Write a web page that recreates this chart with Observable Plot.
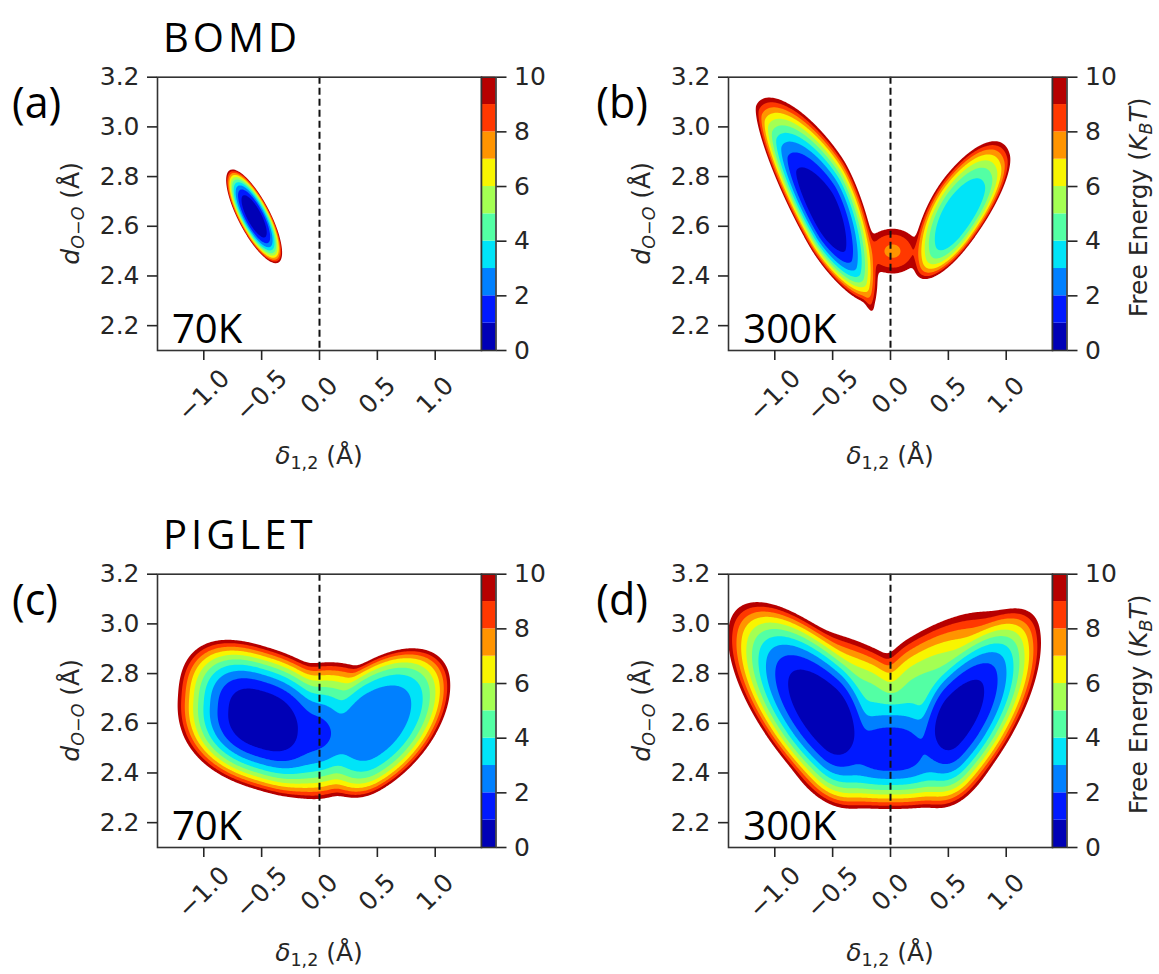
<!DOCTYPE html>
<html>
<head>
<meta charset="utf-8">
<script src="https://cdn.jsdelivr.net/npm/d3@7"></script>
<script src="https://cdn.jsdelivr.net/npm/@observablehq/plot@0.6"></script>
<style>
  html, body { margin: 0; padding: 0; background: #fff; }
  #fig { position: relative; width: 1159px; height: 974px; overflow: hidden; background: #fff; }
  #fig svg { position: absolute; overflow: visible; }
</style>
</head>
<body>
<div id="fig"></div>
<script>
// ---- chart values -------------------------------------------------------
const methods = ["BOMD", "PIGLET"];
const panelTags = ["(a)", "(b)", "(c)", "(d)"];
const temperatures = ["70K", "300K", "70K", "300K"];
const xTicks = [-1.0, -0.5, 0.0, 0.5, 1.0];
const yTicks = [2.2, 2.4, 2.6, 2.8, 3.0, 3.2];
const xDomain = [-1.4, 1.4];
const yDomain = [2.1, 3.2];
const energyLevels = [0, 1, 2, 3, 4, 5, 6, 7, 8, 9, 10];   // k_B T
const colorbarTicks = [0, 2, 4, 6, 8, 10];
// jet colour of each 1 k_B T band, from 0–1 up to 9–10
const bandColors = ["#0000b6", "#0019ff", "#0080ff", "#00e4f8", "#53ffa4",
                    "#a4ff53", "#f8f500", "#ff9400", "#ff3800", "#b60000"];

// Free-energy basins of each surface:
// [δ centre, d centre, axis angle (deg), half-length +, half-length −,
//  half-width +, half-width −, shape exponent, basin depth, wall exponent]
// half-lengths/widths are where the basin alone reaches 10 k_B T.
const bomd70 = [
  [-0.565, 2.64, -36, 0.29, 0.29, 0.10, 0.10, 2, 0, 2.9]
];
const bomd300 = [
  [-0.57, 2.64, -37, 0.55, 0.74, 0.28, 0.175, 1.7, 0, 2.6],
  [ 0.58, 2.63,  30, 0.52, 0.42, 0.20, 0.14, 2, 3.0, 3.0],
  [ 0.02, 2.50,   0, 0.22, 0.24, 0.09, 0.09, 2, 7.8, 2],
  [-0.20, 2.33, -55, 0.08, 0.08, 0.035, 0.035, 2, 8.6, 2]
];
const piglet70 = [
  [-0.50, 2.61, -8, 0.75, 0.73, 0.30, 0.28, 2.5, 0, 2.5],
  [ 0.45, 2.60, 15, 0.70, 0.50, 0.25, 0.28, 2, 2.3, 3.5],
  [ 0.00, 2.56,  0, 0.45, 0.45, 0.25, 0.26, 2, 1.8, 2.2],
  [ 0.10, 2.68,  0, 0.50, 0.50, 0.165, 0.20, 2, 4.5, 2]
];
const piglet300 = [
  [-0.52, 2.625, -23, 0.50, 0.95, 0.30, 0.33, 2, 0, 2.6],
  [ 0.54, 2.62,   26, 0.83, 0.45, 0.27, 0.33, 2, 0.35, 2.6],
  [ 0.00, 2.48,    0, 0.80, 0.80, 0.32, 0.225, 2.5, 1.1, 2],
  [-0.20, 2.70,  -12, 0.45, 0.90, 0.21, 0.20, 2, 4.5, 2],
  [ 0.22, 2.71,   16, 0.90, 0.45, 0.24, 0.20, 2, 4.5, 2]
];
const surfaces = [bomd70, bomd300, piglet70, piglet300];

// ---- free-energy surface from the basins (Boltzmann sum) ----------------
function freeEnergy(basins) {
  return (x, y) => {
    let z = 0;
    for (const [cx, cy, ang, aP, aN, bP, bN, m, depth, p] of basins) {
      const t = ang * Math.PI / 180, c = Math.cos(t), s = Math.sin(t);
      const dx = x - cx, dy = y - cy;
      const u = dx * c + dy * s, v = -dx * s + dy * c;
      const su = Math.abs(u) / (u >= 0 ? aP : aN);
      const sv = Math.abs(v) / (v >= 0 ? bP : bN);
      const r = Math.pow(Math.pow(su, m) + Math.pow(sv, m), 1 / m);
      z += Math.exp(-(depth + (10 - depth) * Math.pow(r, p)));
    }
    return z > 0 ? Math.min(60, -Math.log(z)) : 60;
  };
}

// ---- layout ------------------------------------------------------------
const fig = document.getElementById("fig");
const colStep = 571.3, rowStep = 497.3;
const frameLeft = 157, frameW = 324, frameTop = 76.7, frameH = 273.3;
const svgH = 480, cbW = 14.5, cbRight = 110;
const fmt = d3.format(".1f");
// contour thresholds on −F: region −F ≥ −t  ⇔  F ≤ t
const negLevels = energyLevels.slice(1).map(t => -t).reverse();     // −10 … −1
const negColors = bandColors.slice().reverse();                      // 9–10 … 0–1

function place(svg, left, top) {
  svg.style.left = left + "px";
  svg.style.top = top + "px";
  fig.appendChild(svg);
  return svg;
}

surfaces.forEach((basins, i) => {
  const col = i % 2, row = Math.floor(i / 2);
  const ox = col * colStep, oy = row * rowStep;
  const F = freeEnergy(basins);

  const main = Plot.plot({
    width: frameLeft + frameW, height: svgH,
    marginLeft: frameLeft, marginRight: 0, marginTop: frameTop,
    marginBottom: svgH - frameTop - frameH,
    x: {domain: xDomain},
    y: {domain: yDomain},
    color: {type: "ordinal", domain: negLevels, range: negColors},
    style: {fontFamily: "DejaVu Sans", fontSize: "25px", color: "#262626", background: "transparent"},
    marks: [
      Plot.contour({
        x1: xDomain[0], x2: xDomain[1], y1: yDomain[0], y2: yDomain[1],
        fill: (x, y) => -F(x, y),
        thresholds: negLevels,
        pixelSize: 1
      }),
      Plot.ruleX([0], {stroke: "#111", strokeWidth: 2, strokeDasharray: "7,4"}),
      Plot.frame({stroke: "#333", strokeWidth: 1.6}),
      Plot.axisY(yTicks, {tickSize: 10, tickPadding: 8, tickFormat: fmt, fontSize: 25,
                          label: null, strokeWidth: 1.6}),
      Plot.axisX(xTicks, {tickSize: 10, tickPadding: 35, tickRotate: -45, tickFormat: fmt,
                          fontSize: 25, label: null, strokeWidth: 1.6,
                          textAnchor: "middle", lineAnchor: "middle"})
    ]
  });
  place(main, ox, oy);

  const ms = d3.select(main);
  // y axis title  d_{O−O} (Å)
  const yl = ms.append("text")
    .attr("transform", `translate(79,${frameTop + frameH / 2}) rotate(-90)`)
    .attr("text-anchor", "middle").attr("font-family", "DejaVu Sans")
    .attr("font-size", 25).attr("fill", "#262626");
  yl.append("tspan").attr("font-style", "italic").text("d");
  yl.append("tspan").attr("font-style", "italic").attr("font-size", 17.5).attr("dy", 5).text("O−O");
  yl.append("tspan").attr("dy", -5).text(" (Å)");
  // x axis title  δ_{1,2} (Å)
  const xl = ms.append("text")
    .attr("x", frameLeft + frameW / 2).attr("y", 464)
    .attr("text-anchor", "middle").attr("font-family", "DejaVu Sans")
    .attr("font-size", 25).attr("fill", "#262626");
  xl.append("tspan").attr("font-style", "italic").text("δ");
  xl.append("tspan").attr("font-size", 17.5).attr("dy", 5).text("1,2");
  xl.append("tspan").attr("dy", -5).text(" (Å)");

  // colour bar
  const cb = Plot.plot({
    width: cbW + cbRight, height: svgH,
    marginLeft: 0, marginRight: cbRight, marginTop: frameTop,
    marginBottom: svgH - frameTop - frameH,
    y: {domain: [energyLevels[0], energyLevels[energyLevels.length - 1]]},
    style: {fontFamily: "DejaVu Sans", fontSize: "25px", color: "#262626", background: "transparent"},
    marks: [
      Plot.rect(energyLevels.slice(0, -1), {y1: d => d, y2: d => d + 1, fill: (d, k) => bandColors[k]}),
      Plot.frame({stroke: "#333", strokeWidth: 1.6}),
      Plot.axisY(colorbarTicks, {anchor: "right", tickSize: 10, tickPadding: 8, fontSize: 25,
                                 label: null, strokeWidth: 1.6})
    ]
  });
  place(cb, ox + frameLeft + frameW, oy);
  if (col === 1) {
    const cl = d3.select(cb).append("text")
      .attr("transform", `translate(95,${frameTop + frameH / 2 - 6}) rotate(-90)`)
      .attr("text-anchor", "middle").attr("font-family", "DejaVu Sans")
      .attr("font-size", 25).attr("fill", "#262626");
    cl.append("tspan").text("Free Energy (");
    cl.append("tspan").attr("font-style", "italic").text("K");
    cl.append("tspan").attr("font-style", "italic").attr("font-size", 17.5).attr("dy", 5).text("B");
    cl.append("tspan").attr("font-style", "italic").attr("dy", -5).text("T");
    cl.append("tspan").text(")");
  }
});

// ---- titles, panel tags and temperatures ---------------------------------
const over = d3.create("svg").attr("width", 1159).attr("height", 974)
  .style("left", "0px").style("top", "0px").style("pointer-events", "none");
const big = sel => sel.attr("font-family", "Open Sans").attr("fill", "#000");
methods.forEach((m, r) => {
  big(over.append("text")).attr("x", 163).attr("y", 51.7 + r * rowStep)
    .attr("font-size", 40).attr("letter-spacing", 4).text(m);
});
panelTags.forEach((t, i) => {
  const col = i % 2, row = Math.floor(i / 2);
  big(over.append("text")).attr("x", 12 + col * (colStep + 13)).attr("y", 118 + row * rowStep)
    .attr("font-size", 43).text(t);
});
temperatures.forEach((t, i) => {
  const col = i % 2, row = Math.floor(i / 2);
  big(over.append("text")).attr("x", frameLeft + 15 + col * colStep).attr("y", 343 + row * rowStep)
    .attr("font-size", 40).text(t);
});
fig.appendChild(over.node());
</script>
</body>
</html>
